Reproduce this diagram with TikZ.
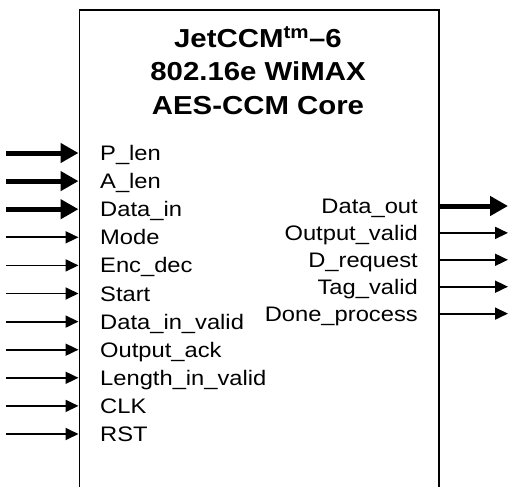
\documentclass[tikz,border=0pt]{standalone}
\usepackage{fontspec}
\setmainfont[FakeStretch=1.13]{Liberation Sans}
\usetikzlibrary{arrows.meta,positioning}

\tikzset{
  inlbl/.style={inner sep=0pt, text height=15pt, text depth=0pt,
    minimum height=27.7pt, text width=175pt, align=left,
    font=\fontsize{21}{25}\selectfont},
  outlbl/.style={inner sep=0pt, text height=15pt, text depth=0pt,
    minimum height=26.5pt, text width=160pt, align=right,
    font=\fontsize{21}{25}\selectfont},
  bus/.style={line width=5pt, -{Triangle[length=18pt,width=19pt]}},
  wire/.style={line width=1.8pt, -{Triangle[length=13pt,width=12pt]}},
}

\begin{document}
\begin{tikzpicture}[x=1pt,y=1pt]
  \useasboundingbox (0,0) rectangle (509,-487);
  % the core block, open at the bottom
  \node (core) [draw, line width=1.6pt, inner sep=0pt, anchor=north west,
    minimum width=359.5pt, minimum height=500pt] at (78.5,-9.5) {};
  \node (title) [font=\fontsize{26}{33.5}\selectfont\bfseries, align=center]
    at (258,-70.5) {JetCCM\textsuperscript{tm}\textendash 6\\802.16e WiMAX\\AES-CCM Core};
  \coordinate (lft) at (6,0);
  \coordinate (rgt) at (508,0);
  % inputs
  \node (plen) [inlbl, anchor=west] at (100,-153) {P\_len};
  \node (alen) [inlbl, below=0pt of plen] {A\_len};
  \node (din) [inlbl, below=0pt of alen] {Data\_in};
  \node (mode) [inlbl, below=0pt of din] {Mode};
  \node (encdec) [inlbl, below=0pt of mode] {Enc\_dec};
  \node (start) [inlbl, below=0pt of encdec] {Start};
  \node (dinvalid) [inlbl, below=0pt of start] {Data\_in\_valid};
  \node (outack) [inlbl, below=0pt of dinvalid] {Output\_ack};
  \node (lenvalid) [inlbl, below=0pt of outack] {Length\_in\_valid};
  \node (clk) [inlbl, below=0pt of lenvalid] {CLK};
  \node (rst) [inlbl, below=0pt of clk] {RST};
  \draw[bus] (plen -| lft) -- (plen -| core.west);
  \draw[bus] (alen -| lft) -- (alen -| core.west);
  \draw[bus] (din -| lft) -- (din -| core.west);
  \draw[wire] (mode -| lft) -- (mode -| core.west);
  \draw[wire] (encdec -| lft) -- (encdec -| core.west);
  \draw[wire] (start -| lft) -- (start -| core.west);
  \draw[wire] (dinvalid -| lft) -- (dinvalid -| core.west);
  \draw[wire] (outack -| lft) -- (outack -| core.west);
  \draw[wire] (lenvalid -| lft) -- (lenvalid -| core.west);
  \draw[wire] (clk -| lft) -- (clk -| core.west);
  \draw[wire] (rst -| lft) -- (rst -| core.west);
  % outputs
  \node (dout) [outlbl, anchor=east] at (418,-206) {Data\_out};
  \node (outvalid) [outlbl, below=0pt of dout] {Output\_valid};
  \node (dreq) [outlbl, below=0pt of outvalid] {D\_request};
  \node (tagvalid) [outlbl, below=0pt of dreq] {Tag\_valid};
  \node (done) [outlbl, below=0pt of tagvalid] {Done\_process};
  \draw[bus] (dout -| core.east) -- (dout -| rgt);
  \draw[wire] (outvalid -| core.east) -- (outvalid -| rgt);
  \draw[wire] (dreq -| core.east) -- (dreq -| rgt);
  \draw[wire] (tagvalid -| core.east) -- (tagvalid -| rgt);
  \draw[wire] (done -| core.east) -- (done -| rgt);
\end{tikzpicture}
\end{document}
